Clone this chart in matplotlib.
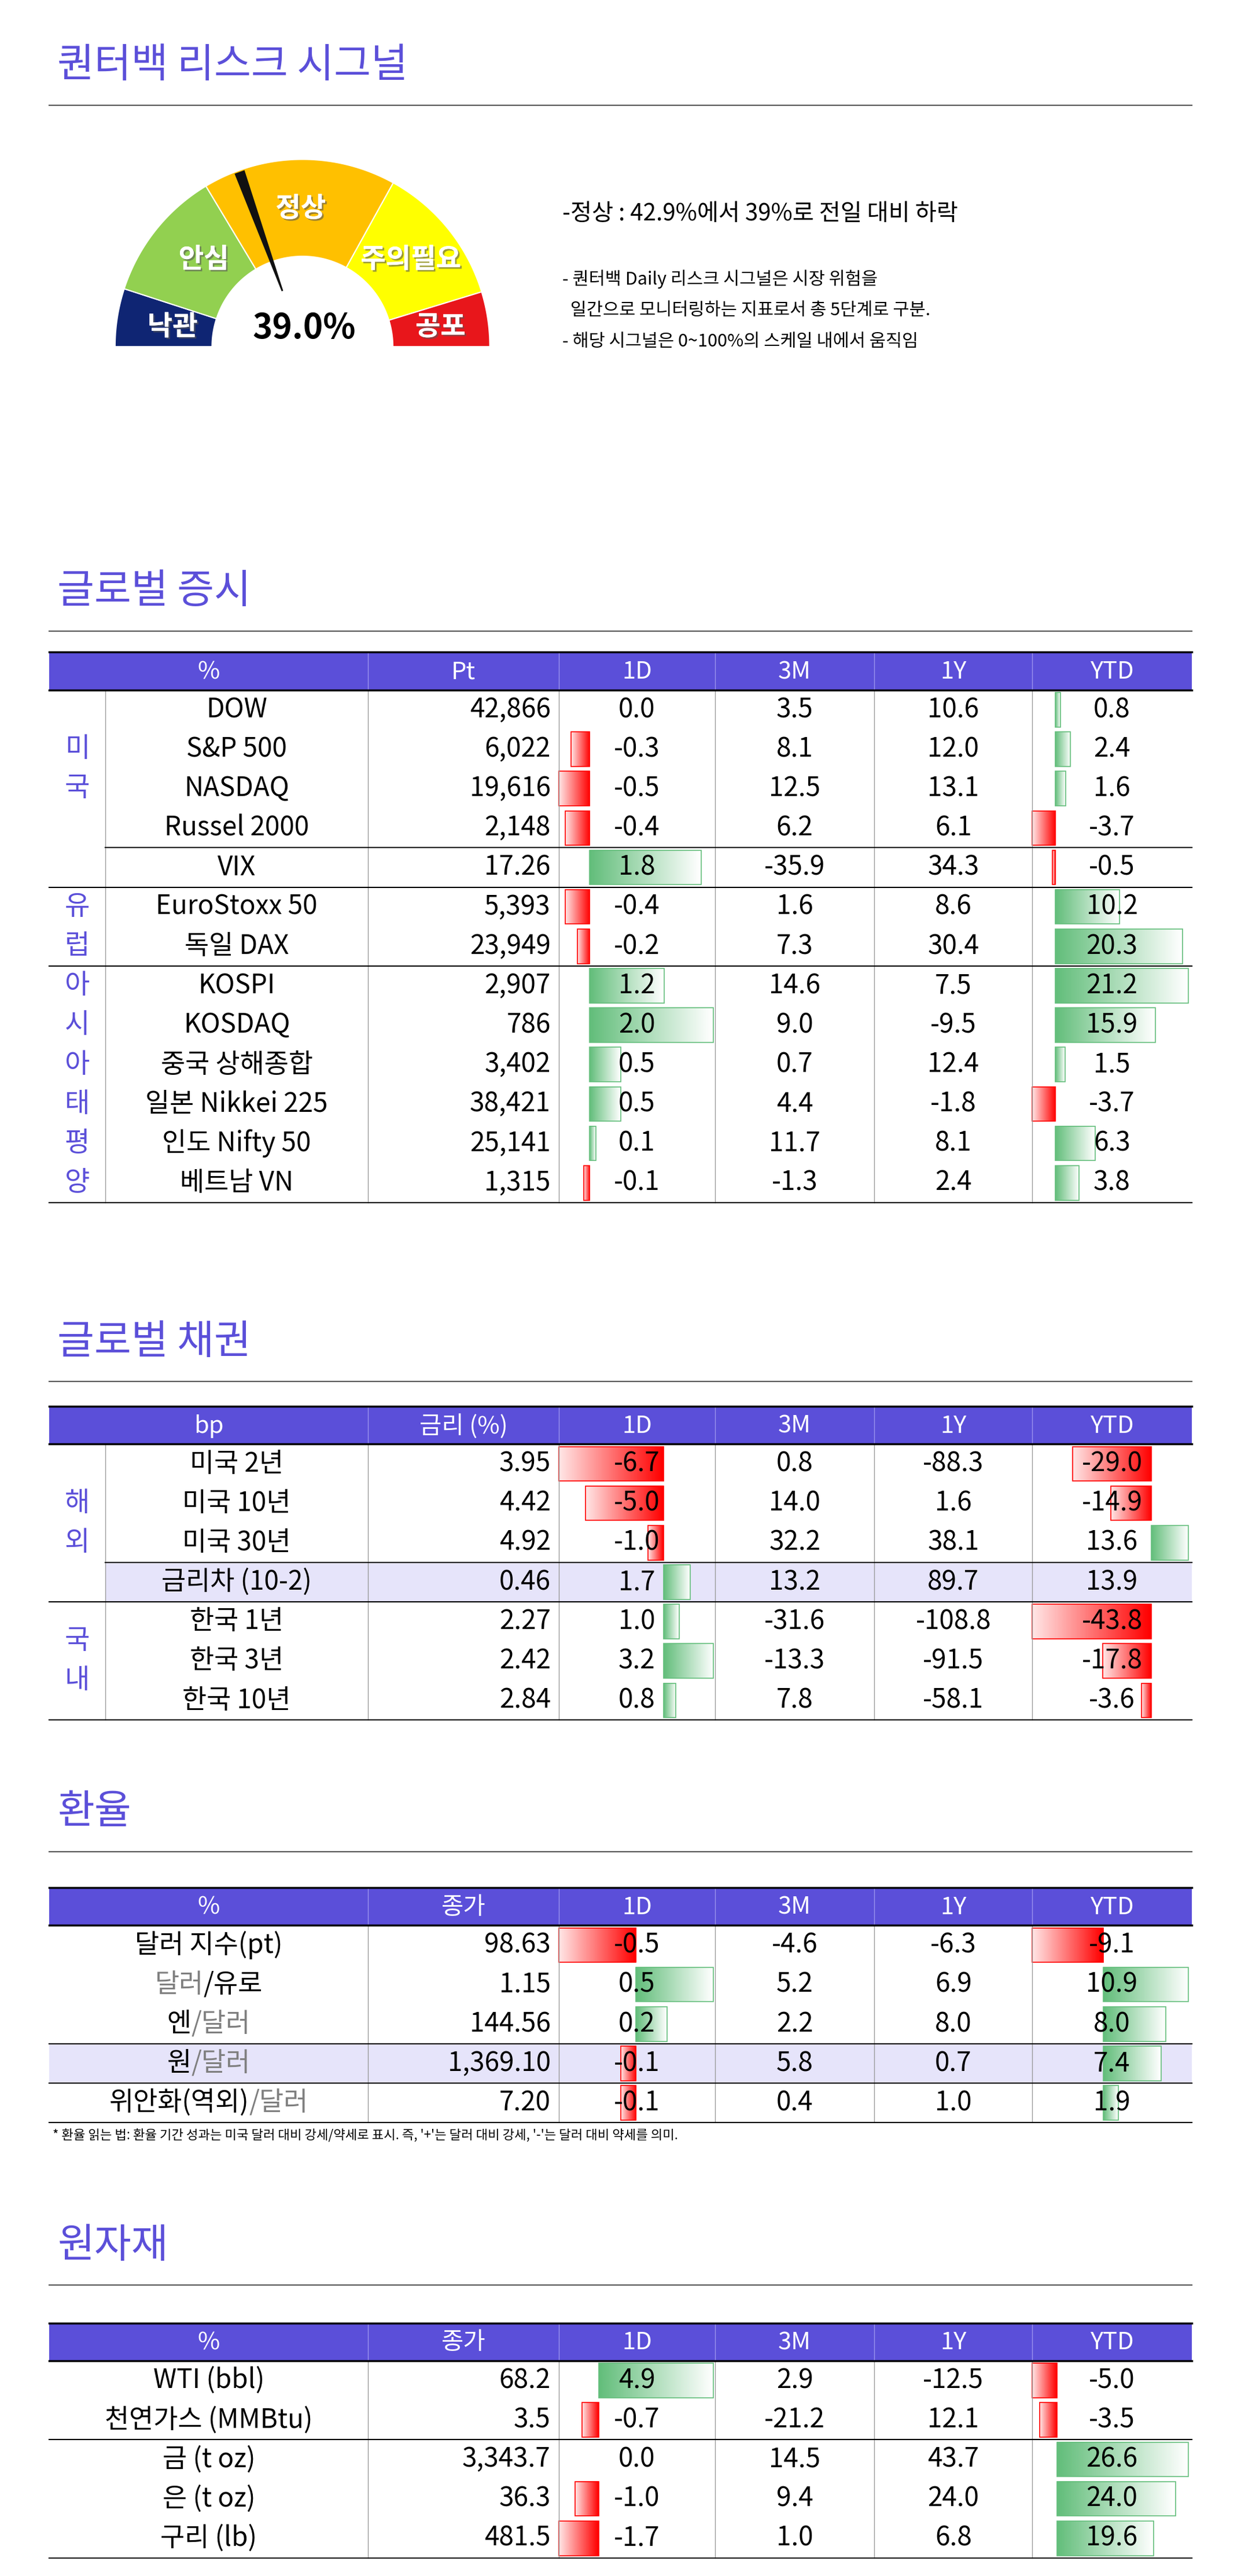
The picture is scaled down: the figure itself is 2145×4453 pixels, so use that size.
import numpy as np
import matplotlib
matplotlib.use("Agg")
import matplotlib.pyplot as plt
from matplotlib.patches import Polygon, Rectangle
from matplotlib.colors import LinearSegmentedColormap
import matplotlib.patheffects as pe

plt.rcParams["font.family"] = ["Noto Sans CJK JP", "Noto Sans CJK KR", "DejaVu Sans"]

PURPLE = "#5b4fd9"
HILITE = "#e6e4fa"
FS = 33  # table text size

# ---------------- data ----------------
signal_value = 39.0
gauge_labels = ["낙관", "안심", "정상", "주의필요", "공포"]
gauge_bounds = [180, 162, 121, 61, 17, 0]
gauge_colors = ["#0f2573", "#92d050", "#ffc000", "#ffff00", "#e8161b"]

stock_names = ["DOW", "S&P 500", "NASDAQ", "Russel 2000", "VIX", "EuroStoxx 50", "독일 DAX",
               "KOSPI", "KOSDAQ", "중국 상해종합", "일본 Nikkei 225", "인도 Nifty 50", "베트남 VN"]
stock_pt = ["42,866", "6,022", "19,616", "2,148", "17.26", "5,393", "23,949",
            "2,907", "786", "3,402", "38,421", "25,141", "1,315"]
stock_1d = [0.0, -0.3, -0.5, -0.4, 1.8, -0.4, -0.2, 1.2, 2.0, 0.5, 0.5, 0.1, -0.1]
stock_3m = [3.5, 8.1, 12.5, 6.2, -35.9, 1.6, 7.3, 14.6, 9.0, 0.7, 4.4, 11.7, -1.3]
stock_1y = [10.6, 12.0, 13.1, 6.1, 34.3, 8.6, 30.4, 7.5, -9.5, 12.4, -1.8, 8.1, 2.4]
stock_ytd = [0.8, 2.4, 1.6, -3.7, -0.5, 10.2, 20.3, 21.2, 15.9, 1.5, -3.7, 6.3, 3.8]

bond_names = ["미국 2년", "미국 10년", "미국 30년", "금리차 (10-2)", "한국 1년", "한국 3년", "한국 10년"]
bond_rate = ["3.95", "4.42", "4.92", "0.46", "2.27", "2.42", "2.84"]
bond_1d = [-6.7, -5.0, -1.0, 1.7, 1.0, 3.2, 0.8]
bond_3m = [0.8, 14.0, 32.2, 13.2, -31.6, -13.3, 7.8]
bond_1y = [-88.3, 1.6, 38.1, 89.7, -108.8, -91.5, -58.1]
bond_ytd = [-29.0, -14.9, 13.6, 13.9, -43.8, -17.8, -3.6]

fx_names = ["달러 지수(pt)", "달러/유로", "엔/달러", "원/달러", "위안화(역외)/달러"]
fx_close = ["98.63", "1.15", "144.56", "1,369.10", "7.20"]
fx_1d = [-0.5, 0.5, 0.2, -0.1, -0.1]
fx_3m = [-4.6, 5.2, 2.2, 5.8, 0.4]
fx_1y = [-6.3, 6.9, 8.0, 0.7, 1.0]
fx_ytd = [-9.1, 10.9, 8.0, 7.4, 1.9]

cmd_names = ["WTI (bbl)", "천연가스 (MMBtu)", "금 (t oz)", "은 (t oz)", "구리 (lb)"]
cmd_close = ["68.2", "3.5", "3,343.7", "36.3", "481.5"]
cmd_1d = [4.9, -0.7, 0.0, -1.0, -1.7]
cmd_3m = [2.9, -21.2, 14.5, 9.4, 1.0]
cmd_1y = [-12.5, 12.1, 43.7, 24.0, 6.8]
cmd_ytd = [-5.0, -3.5, 26.6, 24.0, 19.6]

# ---------------- figure ----------------
fig = plt.figure(figsize=(21.45, 44.53), dpi=100)
ax = fig.add_axes([0, 0, 1, 1])
W, H = 755, 1568
ax.set_xlim(0, W)
ax.set_ylim(H, 0)
ax.axis("off")

red_cm = LinearSegmentedColormap.from_list("r", ["#ffe5e5", "#ff0000"])
green_cm = LinearSegmentedColormap.from_list("g", ["#63be7b", "#ffffff"])


def section_title(text, y):
    ax.text(35, y, text, fontsize=50, color=PURPLE, va="center", ha="left")
    ax.plot([30, 725], [y + 24, y + 24], color="#555555", lw=1.5)


# ---------------- gauge ----------------
section_title("퀀터백 리스크 시그널", 40)
cx, cy, r_out, r_in = 184, 211, 114, 55
for i in range(5):
    th = np.radians(np.linspace(gauge_bounds[i], gauge_bounds[i + 1], 60))
    xs = np.concatenate([cx + r_out * np.cos(th), cx + r_in * np.cos(th[::-1])])
    ys = np.concatenate([cy - r_out * np.sin(th), cy - r_in * np.sin(th[::-1])])
    ax.add_patch(Polygon(np.c_[xs, ys], closed=True, fc=gauge_colors[i], ec="white", lw=1.5))
# needle
na = np.radians(180 - signal_value / 100 * 180)
perp = na + np.pi / 2
p_tip = (cx + 113 * np.cos(na), cy - 113 * np.sin(na))
p_base = (cx + 36 * np.cos(na), cy - 36 * np.sin(na))
hw = 3.2
needle = [(p_tip[0] + hw * np.cos(perp), p_tip[1] - hw * np.sin(perp)),
          (p_tip[0] - hw * np.cos(perp), p_tip[1] + hw * np.sin(perp)),
          (p_base[0] - 0.5 * np.cos(perp), p_base[1] + 0.5 * np.sin(perp)),
          (p_base[0] + 0.5 * np.cos(perp), p_base[1] - 0.5 * np.sin(perp))]
ax.add_patch(Polygon(needle, closed=True, fc="#111111", ec="none", zorder=5))

label_pos = [(105, 199), (124, 158), (183, 127), (250, 158), (268, 199)]
for lab, (lx, ly) in zip(gauge_labels, label_pos):
    ax.text(lx, ly, lab, fontsize=34, color="white", fontweight="bold", ha="center", va="center",
            path_effects=[pe.withSimplePatchShadow(offset=(2, -2), shadow_rgbFace="#555555", alpha=0.6), pe.Normal()])
ax.text(185, 200, f"{signal_value:.1f}%", fontsize=42, fontweight="bold", ha="center", va="center")

ax.text(342, 130, "-정상 : 42.9%에서 39%로 전일 대비 하락", fontsize=29, ha="left", va="center")
ax.text(342, 170, "- 퀀터백 Daily 리스크 시그널은 시장 위험을", fontsize=22, ha="left", va="center")
ax.text(342, 189, "  일간으로 모니터링하는 지표로서 총 5단계로 구분.", fontsize=22, ha="left", va="center")
ax.text(342, 208, "- 해당 시그널은 0~100%의 스케일 내에서 움직임", fontsize=22, ha="left", va="center")

# ---------------- tables ----------------
COLS = [30, 64, 224, 340, 435, 532, 628, 725]
RH = 24


def draw_bars(vals, x0, x1, row_top, skip=()):
    vv = [v for i, v in enumerate(vals) if i not in skip]
    vmin, vmax = min(min(vv), 0), max(max(vv), 0)
    width = x1 - x0
    axis_x = x0 + width * (-vmin) / (vmax - vmin)
    scale = width / (vmax - vmin)
    for i, v in enumerate(vals):
        if i in skip or v == 0:
            continue
        yt, yb = row_top + i * RH + 1.5, row_top + (i + 1) * RH - 1.5
        if v > 0:
            xa, xb, cm, ec = axis_x, axis_x + v * scale, green_cm, "#63be7b"
        else:
            xa, xb, cm, ec = axis_x + v * scale, axis_x, red_cm, "#ff0000"
        grad = np.linspace(0, 1, 64).reshape(1, -1)
        ax.imshow(grad, cmap=cm, extent=(xa, xb, yb, yt), aspect="auto", zorder=1, interpolation="bilinear")
        ax.add_patch(Rectangle((xa, yt), xb - xa, yb - yt, fc="none", ec=ec, lw=1.2, zorder=2))


def table(y_head, headers, names, first, cols3, bars, groups=None, dividers=(), partial=(),
          highlight=None, hl_x0=30, skip_ytd=(), name_parts=None):
    n = len(names)
    yb = y_head + 23
    ax.add_patch(Rectangle((30, y_head), 695, 23, fc=PURPLE, ec="none", zorder=0))
    hx = [(COLS[0] + COLS[2]) / 2] + [(COLS[j] + COLS[j + 1]) / 2 for j in range(2, 7)]
    for h, x in zip(headers, hx):
        ax.text(x, y_head + 12, h, fontsize=30, color="white", ha="center", va="center", zorder=3)
    for x in COLS[2:7]:
        ax.plot([x, x], [y_head, yb], color="#9b93ee", lw=1, zorder=1)
    if highlight is not None:
        ax.add_patch(Rectangle((hl_x0, yb + highlight * RH), 725 - hl_x0, RH, fc=HILITE, ec="none", zorder=0))
    ax.plot([30, 725], [y_head, y_head], color="black", lw=2.5, zorder=4)
    ax.plot([30, 725], [yb, yb], color="black", lw=2.5, zorder=4)
    bottom = yb + n * RH
    ax.plot([30, 725], [bottom, bottom], color="black", lw=1.5, zorder=4)
    vlines = COLS[1:7] if groups else COLS[2:7]
    for x in vlines:
        ax.plot([x, x], [yb, bottom], color="#999999", lw=1, zorder=3)
    for d in dividers:
        ax.plot([30, 725], [yb + d * RH] * 2, color="black", lw=1.5, zorder=4)
    for d in partial:
        ax.plot([64, 725], [yb + d * RH] * 2, color="black", lw=1.5, zorder=4)
    name_x = (COLS[1] + COLS[2]) / 2 if groups else (COLS[0] + COLS[2]) / 2
    if groups:
        for chars, rows in groups:
            mid = yb + (rows[0] + rows[1]) / 2 * RH
            k = len(chars)
            for j, ch in enumerate(chars):
                ax.text(47, mid + (j - (k - 1) / 2) * RH, ch, fontsize=34, color=PURPLE, ha="center", va="center")
    r = fig.canvas.get_renderer()
    for i in range(n):
        y = yb + i * RH + RH / 2
        if name_parts and name_parts[i]:
            a, b = names[i].split("/")
            ca, cb = name_parts[i]
            t1 = ax.text(0, 0, a, fontsize=FS)
            t2 = ax.text(0, 0, "/" + b, fontsize=FS)
            w1 = t1.get_window_extent(r).width * W / fig.bbox.width
            w2 = t2.get_window_extent(r).width * W / fig.bbox.width
            t1.remove(); t2.remove()
            left = name_x - (w1 + w2) / 2
            ax.text(left, y, a, fontsize=FS, color=ca, ha="left", va="center", zorder=5)
            ax.text(left + w1, y, "/" + b, fontsize=FS, color=cb, ha="left", va="center", zorder=5)
        else:
            ax.text(name_x, y, names[i], fontsize=FS, ha="center", va="center", zorder=5)
        ax.text(COLS[3] - 5, y, first[i], fontsize=FS, ha="right", va="center", zorder=5)
        for j, vals in enumerate(cols3):
            xc = (COLS[3 + j] + COLS[4 + j]) / 2
            ax.text(xc, y, f"{vals[i]:.1f}", fontsize=FS, ha="center", va="center", zorder=5)
    draw_bars(bars[0], COLS[3], COLS[4] - 1, yb)
    draw_bars(bars[1], COLS[6], COLS[7] - 2, yb, skip=skip_ytd)


section_title("글로벌 증시", 360)
table(397, ["%", "Pt", "1D", "3M", "1Y", "YTD"], stock_names, stock_pt,
      [stock_1d, stock_3m, stock_1y, stock_ytd], [stock_1d, stock_ytd],
      groups=[("미국", (0, 4)), ("유럽", (5, 7)), ("아시아태평양", (7, 13))],
      dividers=(5, 7), partial=(4,))

section_title("글로벌 채권", 817)
table(856, ["bp", "금리 (%)", "1D", "3M", "1Y", "YTD"], bond_names, bond_rate,
      [bond_1d, bond_3m, bond_1y, bond_ytd], [bond_1d, bond_ytd],
      groups=[("해외", (0, 4)), ("국내", (4, 7))], dividers=(4,), partial=(3,),
      highlight=3, hl_x0=64, skip_ytd=(3,))

section_title("환율", 1103)
fx_colors = [None, ("#7f7f7f", "black"), ("black", "#7f7f7f"), ("black", "#7f7f7f"), ("black", "#7f7f7f")]
table(1149, ["%", "종가", "1D", "3M", "1Y", "YTD"], fx_names, fx_close,
      [fx_1d, fx_3m, fx_1y, fx_ytd], [fx_1d, fx_ytd],
      dividers=(3, 4), highlight=3, name_parts=fx_colors)
ax.text(32, 1300, "* 환율 읽는 법: 환율 기간 성과는 미국 달러 대비 강세/약세로 표시. 즉, '+'는 달러 대비 강세, '-'는 달러 대비 약세를 의미.",
        fontsize=16, ha="left", va="center")

section_title("원자재", 1367)
table(1414, ["%", "종가", "1D", "3M", "1Y", "YTD"], cmd_names, cmd_close,
      [cmd_1d, cmd_3m, cmd_1y, cmd_ytd], [cmd_1d, cmd_ytd], dividers=(2,))

ax.set_xlim(0, W)
ax.set_ylim(H, 0)
fig.savefig("out.png", dpi=100)
